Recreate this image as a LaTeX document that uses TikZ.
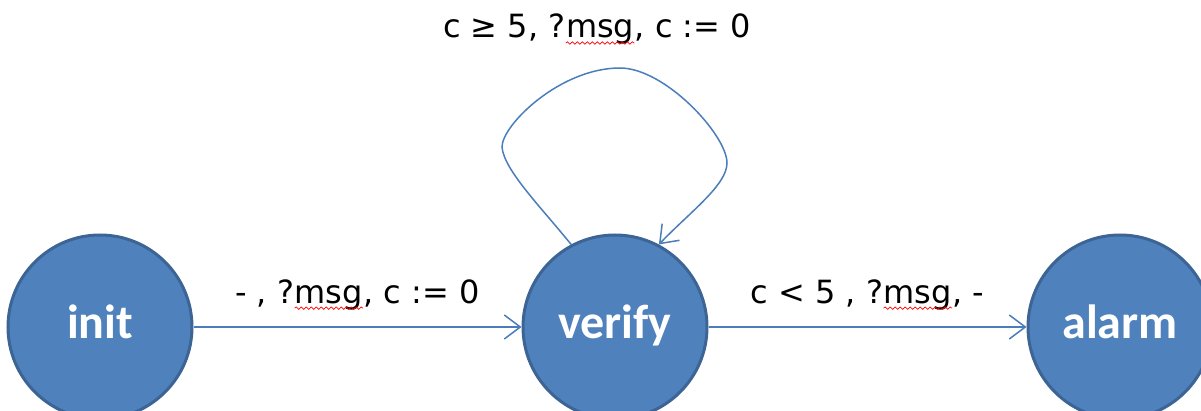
\documentclass[tikz,border=0pt]{standalone}
\usepackage{fontspec}
\usepackage{xcolor}
\usetikzlibrary{arrows.meta,decorations.pathmorphing}

\newfontfamily\statefont{Carlito}
\newfontfamily\guardfont{DejaVu Sans}

\definecolor{statefill}{HTML}{4F81BD}
\definecolor{stateline}{HTML}{3C6494}
\definecolor{edgecol}{HTML}{4A7EBB}

% red wavy underline under a word
\newcommand\spellwave[1]{\tikz[baseline=(w.base)]{\node[inner sep=0pt] (w) {#1};
    \draw[-,red,line width=0.7pt,decorate,decoration={snake,segment length=5pt,amplitude=1.2pt}]
        ([yshift=-5pt]w.base west) -- ([yshift=-5pt]w.base east);}}

\begin{document}
\begin{tikzpicture}[x=1pt,y=-1pt,
    state/.style={circle,draw=stateline,fill=statefill,line width=3pt,minimum size=184pt,
        text=white,font=\statefont\bfseries\fontsize{48}{56}\selectfont,
        text height=22pt,text depth=0pt},
    flow/.style={draw=edgecol,line width=1.5pt,-{Straight Barb[length=16pt,width=24pt,line width=1.5pt]}},
    guard/.style={inner sep=0pt,font=\guardfont\fontsize{32}{38}\selectfont}]
    \clip (0,0) rectangle (1201,411);

    \node[state] (init) at (100,327) {init};
    \node[state] (verify) at (615,327) {verify};
    \node[state] (alarm) at (1120,327) {alarm};

    \draw[flow] (init) -- node[guard,above=17pt] {- , ?\spellwave{msg}, c := 0} (verify);
    \draw[flow] (verify) -- node[guard,above=17pt] {c < 5 , ?\spellwave{msg}, -} (alarm);

    % self loop on verify
    \draw[flow] (verify.118) .. controls (540,206) and (504,170) .. (502,147)
        .. controls (502,125) and (560,68) .. (620,68)
        .. controls (665,68) and (727,135) .. (727,163)
        .. controls (727,185) and (690,212) .. (verify.62);
    \node[guard,anchor=base] (loopguard) at (597,38) {c ≥ 5, ?\spellwave{msg}, c := 0};
\end{tikzpicture}
\end{document}
